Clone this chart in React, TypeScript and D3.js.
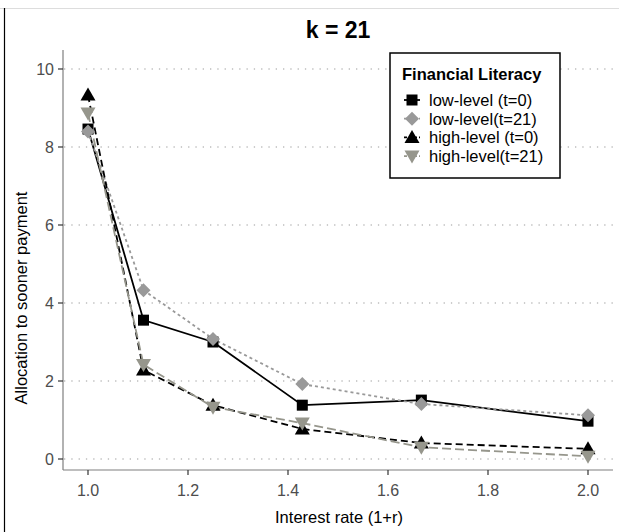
import React from "react";
import * as d3 from "d3";

const rates = [1.0, 1.111, 1.25, 1.4286, 1.6667, 2.0];
const lowT0 = [8.46, 3.56, 3.0, 1.38, 1.51, 0.97];
const lowT21 = [8.4, 4.33, 3.08, 1.92, 1.41, 1.12];
const highT0 = [9.33, 2.28, 1.38, 0.77, 0.41, 0.26];
const highT21 = [8.87, 2.42, 1.33, 0.92, 0.3, 0.07];
const xTicks = [1.0, 1.2, 1.4, 1.6, 1.8, 2.0];
const yTicks = [0, 2, 4, 6, 8, 10];
const seriesNames = ["low-level (t=0)", "low-level(t=21)", "high-level (t=0)", "high-level(t=21)"];

type Shape = "square" | "diamond" | "tri" | "itri";
const styles: { color: string; dash: string; shape: Shape }[] = [
  { color: "#000000", dash: "none", shape: "square" },
  { color: "#999999", dash: "3,3", shape: "diamond" },
  { color: "#000000", dash: "7,4", shape: "tri" },
  { color: "#96968c", dash: "9,4", shape: "itri" },
];

function Marker({ x, y, shape, color }: { x: number; y: number; shape: Shape; color: string }) {
  if (shape === "square") return <rect x={x - 5.5} y={y - 5.5} width={11} height={11} fill={color} />;
  if (shape === "diamond")
    return <path d={`M${x},${y - 7}L${x + 7},${y}L${x},${y + 7}L${x - 7},${y}Z`} fill={color} />;
  if (shape === "tri")
    return <path d={`M${x},${y - 7.5}L${x + 7.5},${y + 5.5}L${x - 7.5},${y + 5.5}Z`} fill={color} />;
  return <path d={`M${x},${y + 7.5}L${x + 7.5},${y - 5.5}L${x - 7.5},${y - 5.5}Z`} fill={color} />;
}

export default function App() {
  const W = 619, H = 532;
  const x = d3.scaleLinear().domain([0.95, 2.05]).range([63, 613]);
  const y = d3.scaleLinear().domain([-0.282, 10.487]).range([470, 50]);
  const data = [lowT0, lowT21, highT0, highT21];
  const line = d3
    .line<number>()
    .x((_, i) => x(rates[i]))
    .y((d) => y(d));
  const font = "Liberation Sans, Arial, Helvetica, sans-serif";
  const axisCol = "#4d4d4d";
  return (
    <svg width={W} height={H} style={{ position: "absolute", left: 0, top: 0, background: "#fff" }} fontFamily={font}>
      <rect x={0} y={0} width={W} height={H} fill="#fff" />
      <line x1={0} x2={W} y1={8.5} y2={8.5} stroke="#dddddd" strokeWidth={1} />
      <line x1={4.5} x2={4.5} y1={8} y2={H} stroke="#000" strokeWidth={1.2} />
      {yTicks.map((t) => (
        <line key={"g" + t} x1={64} x2={613} y1={y(t)} y2={y(t)} stroke="#bdbdbd" strokeWidth={1.3} strokeDasharray="1.3,6" />
      ))}
      <line x1={63} x2={63} y1={50} y2={470} stroke="#7f7f7f" strokeWidth={1.2} />
      <line x1={63} x2={613} y1={470} y2={470} stroke="#7f7f7f" strokeWidth={1.2} />
      {yTicks.map((t) => (
        <g key={"y" + t}>
          <line x1={58} x2={63} y1={y(t)} y2={y(t)} stroke="#333" strokeWidth={1.2} />
          <text x={54} y={y(t)} dy="0.36em" textAnchor="end" fontSize={16} fill={axisCol}>
            {t}
          </text>
        </g>
      ))}
      {xTicks.map((t) => (
        <g key={"x" + t}>
          <line x1={x(t)} x2={x(t)} y1={470} y2={475} stroke="#333" strokeWidth={1.2} />
          <text x={x(t)} y={496} textAnchor="middle" fontSize={16} fill={axisCol}>
            {t.toFixed(1)}
          </text>
        </g>
      ))}
      <text x={339} y={523} textAnchor="middle" fontSize={16.5} fill="#000">
        Interest rate (1+r)
      </text>
      <text transform="translate(27,298) rotate(-90)" textAnchor="middle" fontSize={16.5} fill="#000">
        Allocation to sooner payment
      </text>
      <text x={338} y={38} textAnchor="middle" fontSize={23} fontWeight="bold" fill="#000">
        k = 21
      </text>
      {data.map((d, si) => (
        <path
          key={"l" + si}
          d={line(d) || ""}
          fill="none"
          stroke={styles[si].color}
          strokeWidth={1.8}
          strokeDasharray={styles[si].dash}
        />
      ))}
      {data.map((d, si) =>
        d.map((v, i) => (
          <Marker key={`m${si}-${i}`} x={x(rates[i])} y={y(v)} shape={styles[si].shape} color={styles[si].color} />
        ))
      )}
      <g>
        <rect x={390} y={53} width={170} height={125} fill="#fff" stroke="#000" strokeWidth={1.5} />
        <text x={402} y={80} fontSize={16.5} fontWeight="bold" fill="#000">
          Financial Literacy
        </text>
        {seriesNames.map((n, i) => {
          const cy = 100 + i * 18.7;
          return (
            <g key={"lg" + i}>
              <line x1={404} x2={420} y1={cy} y2={cy} stroke={styles[i].color} strokeWidth={1.8} strokeDasharray={styles[i].dash === "none" ? undefined : "3,2"} />
              <Marker x={412} y={cy} shape={styles[i].shape} color={styles[i].color} />
              <text x={429} y={cy} dy="0.36em" fontSize={16.5} fill="#000">
                {n}
              </text>
            </g>
          );
        })}
      </g>
    </svg>
  );
}
